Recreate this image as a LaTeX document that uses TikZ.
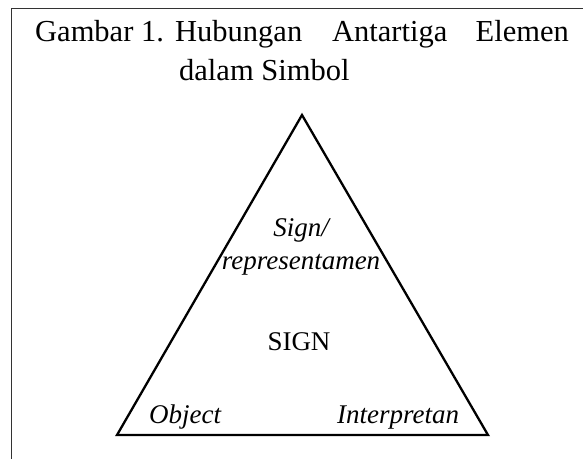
\documentclass[tikz,border=0pt]{standalone}
\usepackage{fontspec}
\setmainfont{Liberation Serif}
\begin{document}
\begin{tikzpicture}[x=1pt,y=-1pt,
  titletext/.style={inner sep=0pt, anchor=base west, font=\fontsize{30.5}{36}\selectfont},
  lbl/.style={inner sep=0pt, anchor=base, font=\fontsize{27}{32}\selectfont\itshape},
  frame/.style={line width=0.9pt, black!80},
  tri/.style={line width=2.3pt, line join=miter}]
\useasboundingbox (0,0) rectangle (583,459);
% frame (top and left only)
\coordinate (fr) at (583,8);
\coordinate (fc) at (11,8);
\coordinate (fb) at (11,459);
\draw[frame] (fr) -- (fc) -- (fb);
% title
\node[titletext] (t1) at (35,41) {Gambar 1.};
\node[titletext] (t2) at (175,41) {Hubungan};
\node[titletext] (t3) at (332,41) {Antartiga};
\node[titletext, anchor=base east] (t4) at (569,41) {Elemen};
\node[titletext] (t5) at (179,80) {dalam Simbol};
% triangle
\coordinate (apex) at (302,115);
\coordinate (bl) at (117,435);
\coordinate (br) at (488,435);
\draw[tri] (apex) -- (bl) -- (br) -- cycle;
% labels
\node[lbl] (s1) at (301,236) {Sign/};
\node[lbl] (s2) at (301,269) {representamen};
\node[lbl, font=\fontsize{27}{32}\selectfont\upshape] (sg) at (299,350) {SIGN};
\node[lbl, anchor=base west] (ob) at (149,423) {Object};
\node[lbl, anchor=base west] (in) at (337,423) {Interpretan};
\end{tikzpicture}
\end{document}
